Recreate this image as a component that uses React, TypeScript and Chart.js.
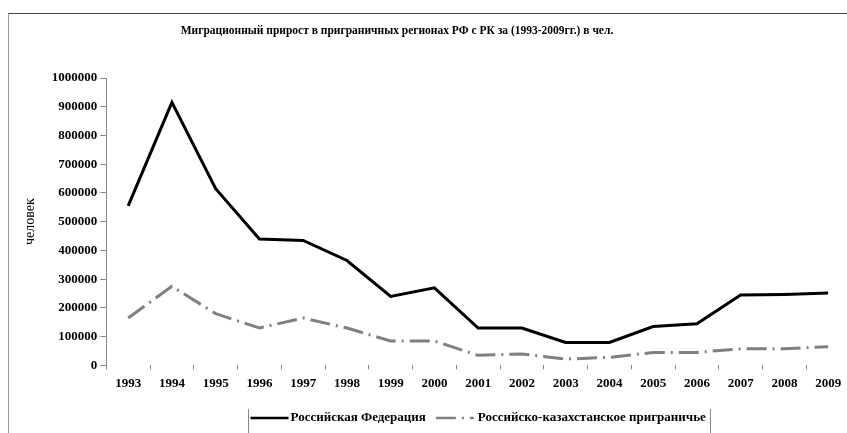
import React, { useEffect, useRef } from "react";
import { Chart, registerables } from "chart.js";

Chart.register(...registerables);

const years = ["1993", "1994", "1995", "1996", "1997", "1998", "1999", "2000", "2001", "2002", "2003", "2004", "2005", "2006", "2007", "2008", "2009"];
const russiaValues = [555000, 915000, 615000, 440000, 435000, 365000, 240000, 270000, 130000, 130000, 80000, 80000, 135000, 145000, 245000, 247000, 252000];
const borderValues = [165000, 275000, 180000, 130000, 165000, 130000, 85000, 85000, 35000, 40000, 22000, 28000, 45000, 45000, 58000, 58000, 65000];
const seriesNames = ["Российская Федерация", "Российско-казахстанское приграничье"];
const titleText = "Миграционный прирост в приграничных регионах РФ с РК за (1993-2009гг.) в чел.";
const yAxisTitle = "человек";

const FONT = '"Liberation Serif", "Times New Roman", serif';
const GRAY_DASH = [20, 6, 2, 6];

const overlay = {
  id: "overlay",
  afterDraw(chart: any) {
    const ctx = chart.ctx as CanvasRenderingContext2D;
    ctx.save();
    ctx.fillStyle = "#000";
    ctx.textBaseline = "middle";
    ctx.textAlign = "center";
    ctx.font = `bold 11.5px ${FONT}`;
    ctx.fillText(titleText, 388, 17);

    const area = chart.chartArea;
    const cx = (area.left + area.right) / 2;
    ctx.font = `bold 13px ${FONT}`;
    const w1 = ctx.measureText(seriesNames[0]).width;
    const w2 = ctx.measureText(seriesNames[1]).width;
    const sample = 38;
    const total = sample + 2 + w1 + 10 + sample + 4 + w2;
    let x = cx - total / 2;
    const y = 404;
    ctx.textAlign = "left";
    ctx.strokeStyle = "#888";
    ctx.lineWidth = 1;
    ctx.setLineDash([]);
    ctx.beginPath();
    ctx.moveTo(Math.round(x - 3) + 0.5, 395);
    ctx.lineTo(Math.round(x - 3) + 0.5, 425);
    ctx.moveTo(Math.round(x + total + 4) + 0.5, 395);
    ctx.lineTo(Math.round(x + total + 4) + 0.5, 425);
    ctx.stroke();
    ctx.strokeStyle = "#000";
    ctx.lineWidth = 2.5;
    ctx.beginPath();
    ctx.moveTo(x, y);
    ctx.lineTo(x + sample, y);
    ctx.stroke();
    x += sample + 2;
    ctx.fillText(seriesNames[0], x, y);
    x += w1 + 10;
    ctx.strokeStyle = "#808080";
    ctx.setLineDash(GRAY_DASH);
    ctx.beginPath();
    ctx.moveTo(x, y);
    ctx.lineTo(x + sample, y);
    ctx.stroke();
    ctx.setLineDash([]);
    x += sample + 4;
    ctx.fillText(seriesNames[1], x, y);
    ctx.restore();
  },
};

export default function App() {
  const ref = useRef<HTMLCanvasElement>(null);
  useEffect(() => {
    const chart = new Chart(ref.current as HTMLCanvasElement, {
      type: "line",
      data: {
        labels: years,
        datasets: [
          {
            label: seriesNames[0],
            data: russiaValues,
            borderColor: "#000000",
            borderWidth: 3,
            pointRadius: 0,
            tension: 0,
            fill: false,
          },
          {
            label: seriesNames[1],
            data: borderValues,
            borderColor: "#808080",
            borderWidth: 3,
            borderDash: GRAY_DASH,
            pointRadius: 0,
            tension: 0,
            fill: false,
          },
        ],
      },
      options: {
        responsive: false,
        animation: false,
        layout: { padding: { top: 64, left: 13, right: 4, bottom: 37 } },
        plugins: {
          legend: { display: false },
          title: { display: false },
          tooltip: { enabled: false },
        },
        scales: {
          x: {
            type: "category",
            offset: true,
            grid: { offset: true, drawOnChartArea: false, drawTicks: true, tickLength: 4, color: "#888" },
            border: { display: false },
            ticks: {
              font: { family: FONT, size: 13, weight: "bold" },
              color: "#000",
              padding: 6,
              maxRotation: 0,
              autoSkip: false,
            },
          },
          y: {
            min: 0,
            max: 1000000,
            ticks: {
              stepSize: 100000,
              font: { family: FONT, size: 13, weight: "bold" },
              color: "#000",
              padding: 3,
              callback: (v: any) => String(v),
            },
            grid: { drawOnChartArea: false, tickLength: 6, color: "#888" },
            border: { display: true, color: "#888", width: 1 },
            title: {
              display: true,
              text: yAxisTitle,
              font: { family: FONT, size: 14 },
              color: "#000",
              padding: { top: 0, bottom: 10 },
            },
          },
        },
      },
      plugins: [overlay],
    });
    return () => chart.destroy();
  }, []);
  return (
    <div
      style={{
        position: "fixed",
        left: 8,
        top: 13,
        right: 0,
        bottom: 0,
        overflow: "hidden",
        borderTop: "1px solid #444",
        borderLeft: "1px solid #999",
        background: "#fff",
      }}
    >
      <canvas ref={ref} width={845} height={420} style={{ display: "block", width: 845, height: 420 }} />
    </div>
  );
}
